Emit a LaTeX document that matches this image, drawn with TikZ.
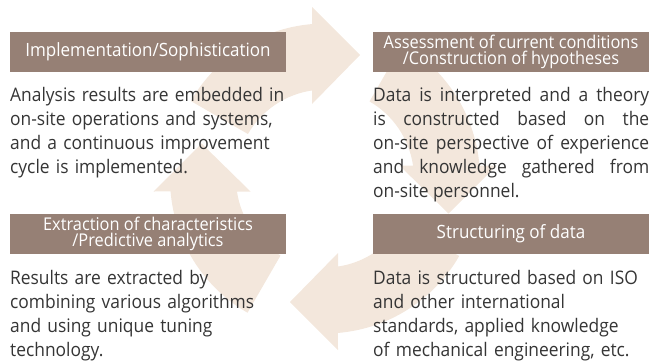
\documentclass[tikz,border=0pt]{standalone}
\usepackage{fontspec}
\setmainfont{Open Sans}[FakeStretch=0.93]
\definecolor{arrowfill}{HTML}{F3E7DC}
\definecolor{headfill}{RGB}{150,128,117}
\definecolor{bodytext}{HTML}{353535}
\begin{document}
\begin{tikzpicture}[x=1pt,y=1pt,
  arrowshape/.style={fill=arrowfill},
  headbox/.style={fill=headfill, text=white, minimum width=276pt, minimum height=40pt, inner sep=0pt, align=center, font=\fontsize{17.6}{15.6}\selectfont},
  bodytxt/.style={text=bodytext, text width=300pt, inner sep=0pt, align=left, anchor=base west, font=\fontsize{18.7}{24}\selectfont}]
\useasboundingbox (0,0) rectangle (656,360);
\foreach \k in {0,1,2,3} {
  \begin{scope}[shift={(325,181.5)}, rotate=-90*\k]
    \fill[arrowshape] (150:155) arc[start angle=150, end angle=94.8, radius=155]
      -- (-13,171.5) -- (35,123.5) -- (-13,74.5) -- (98.4:89)
      arc[start angle=98.4, end angle=150, radius=89] -- cycle;
  \end{scope}
}
\node[headbox, font=\fontsize{18.3}{15.6}\selectfont] (h1) at (148,308) {Implementation/Sophistication};
\node[headbox] (h2) at (511,308) {Assessment of current conditions\\/Construction of hypotheses};
\node[headbox] (h3) at (148,126) {Extraction of characteristics\\/Predictive analytics};
\node[headbox, font=\fontsize{18.3}{15.6}\selectfont] (h4) at (511,126) {Structuring of data};
\node[bodytxt] (b1) at (10,258.5) {Analysis results are embedded in\\on-site operations and systems,\\and a continuous improvement\\cycle is implemented.};
\node[bodytxt] (b2) at (373,258.5) {\spaceskip=0pt\xspaceskip=0pt\relax
  \makebox[276pt][s]{Data is interpreted and a theory}\\\makebox[276pt][s]{is constructed based on the}\\\makebox[276pt][s]{on-site perspective of experience}\\\makebox[276pt][s]{and knowledge gathered from}\\on-site personnel.};
\node[bodytxt] (b3) at (10,76) {Results are extracted by\\combining various algorithms\\and using unique tuning\\technology.};
\node[bodytxt] (b4) at (373,76) {Data is structured based on ISO\\and other international\\standards, applied knowledge\\of mechanical engineering, etc.};
\end{tikzpicture}
\end{document}
